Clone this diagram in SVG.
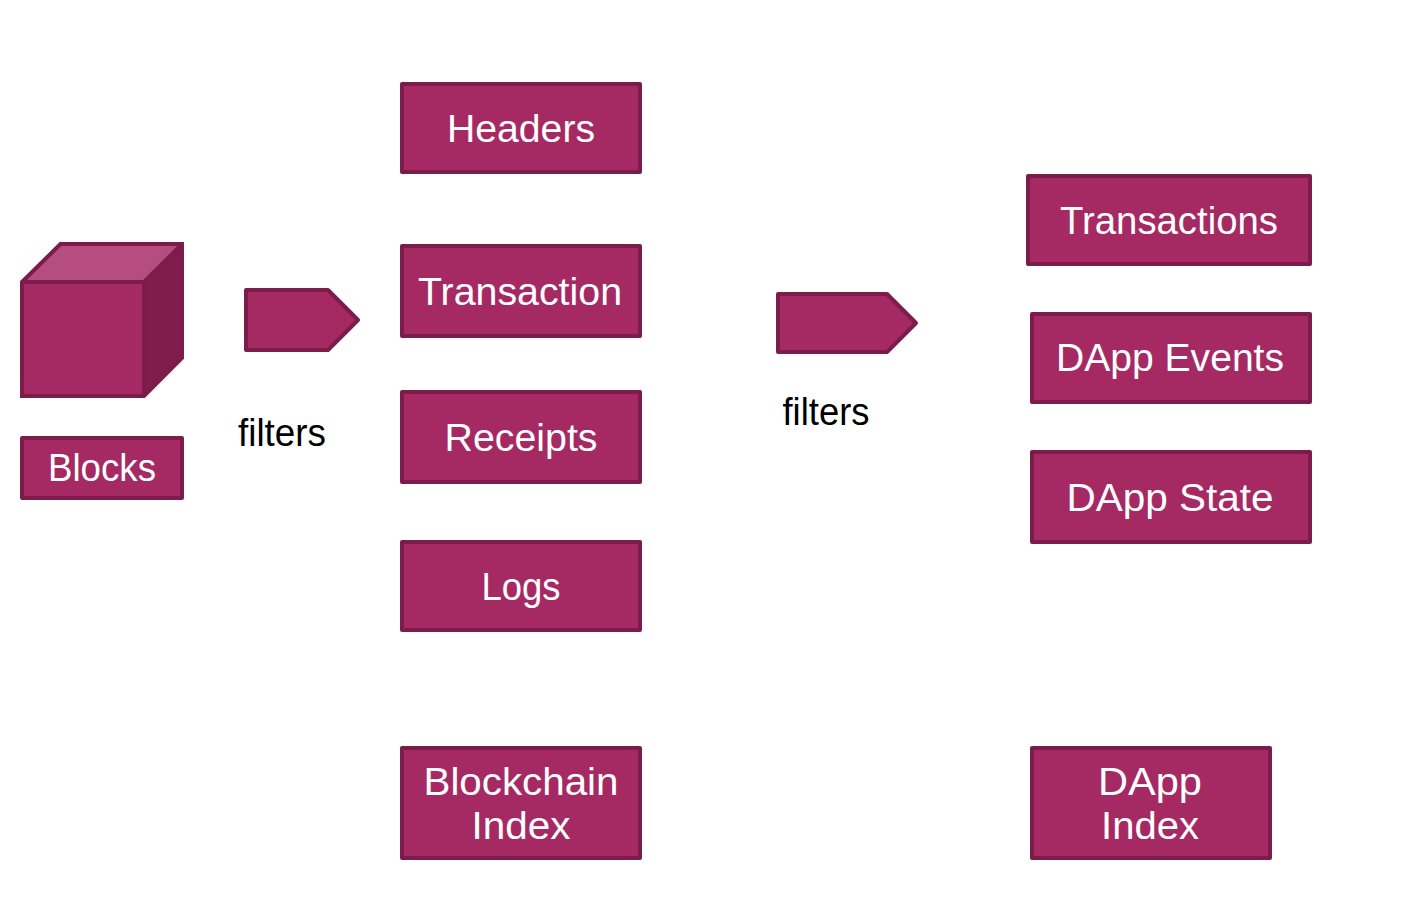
<svg xmlns="http://www.w3.org/2000/svg" width="1418" height="912" viewBox="0 0 1418 912">
<style>
.b{fill:#a52a64;stroke:#7b1c4a;stroke-width:4;stroke-linejoin:round}
.t{font-family:"Liberation Sans",Arial,sans-serif;font-size:38px;fill:#fff;text-anchor:middle}
.k{font-family:"Liberation Sans",Arial,sans-serif;font-size:38px;fill:#000;text-anchor:middle}
</style>
<rect width="1418" height="912" fill="#fff"/>
<g id="cube">
<path d="M22 282L60.500 244H182V358L144 396H22Z" fill="#a52a64"/>
<path d="M22 282L60.500 244H182L144 282Z" fill="#b54d80"/>
<path d="M144 282L182 244V358L144 396Z" fill="#801d4d"/>
<path d="M22 282L60.500 244H182V358L144 396H22ZM22 282H144L182 244M144 282V396" fill="none" stroke="#7b1c4a" stroke-width="4"/>
</g>
<g id="blocks"><rect class="b" x="22" y="438" width="160" height="60"/><text class="t" x="102" y="481" textLength="108" lengthAdjust="spacingAndGlyphs">Blocks</text></g>
<g id="arrow1"><path class="b" d="M246 290H328L358 320L328 350H246Z"/></g>
<text class="k" x="282" y="446" textLength="88" lengthAdjust="spacingAndGlyphs">filters</text>
<g id="headers"><rect class="b" x="402" y="84" width="238" height="88"/><text class="t" x="521" y="142" textLength="148" lengthAdjust="spacingAndGlyphs">Headers</text></g>
<g id="transaction"><rect class="b" x="402" y="246" width="238" height="90"/><text class="t" x="520" y="305" textLength="204" lengthAdjust="spacingAndGlyphs">Transaction</text></g>
<g id="receipts"><rect class="b" x="402" y="392" width="238" height="90"/><text class="t" x="521" y="451" textLength="153" lengthAdjust="spacingAndGlyphs">Receipts</text></g>
<g id="logs"><rect class="b" x="402" y="542" width="238" height="88"/><text class="t" x="521" y="600" textLength="79" lengthAdjust="spacingAndGlyphs">Logs</text></g>
<g id="blockchain-index"><rect class="b" x="402" y="748" width="238" height="110"/><text class="t" x="521" y="795" textLength="195" lengthAdjust="spacingAndGlyphs">Blockchain</text><text class="t" x="521" y="839" textLength="99" lengthAdjust="spacingAndGlyphs">Index</text></g>
<g id="arrow2"><path class="b" d="M778 294H887L916 323L887 352H778Z"/></g>
<text class="k" x="826" y="425" textLength="87" lengthAdjust="spacingAndGlyphs">filters</text>
<g id="transactions"><rect class="b" x="1028" y="176" width="282" height="88"/><text class="t" x="1169" y="234" textLength="218" lengthAdjust="spacingAndGlyphs">Transactions</text></g>
<g id="dapp-events"><rect class="b" x="1032" y="314" width="278" height="88"/><text class="t" x="1170" y="371" textLength="228" lengthAdjust="spacingAndGlyphs">DApp Events</text></g>
<g id="dapp-state"><rect class="b" x="1032" y="452" width="278" height="90"/><text class="t" x="1170" y="511" textLength="207" lengthAdjust="spacingAndGlyphs">DApp State</text></g>
<g id="dapp-index"><rect class="b" x="1032" y="748" width="238" height="110"/><text class="t" x="1150" y="795" textLength="104" lengthAdjust="spacingAndGlyphs">DApp</text><text class="t" x="1150" y="839" textLength="98" lengthAdjust="spacingAndGlyphs">Index</text></g>
<g id="connectors"></g>
</svg>
